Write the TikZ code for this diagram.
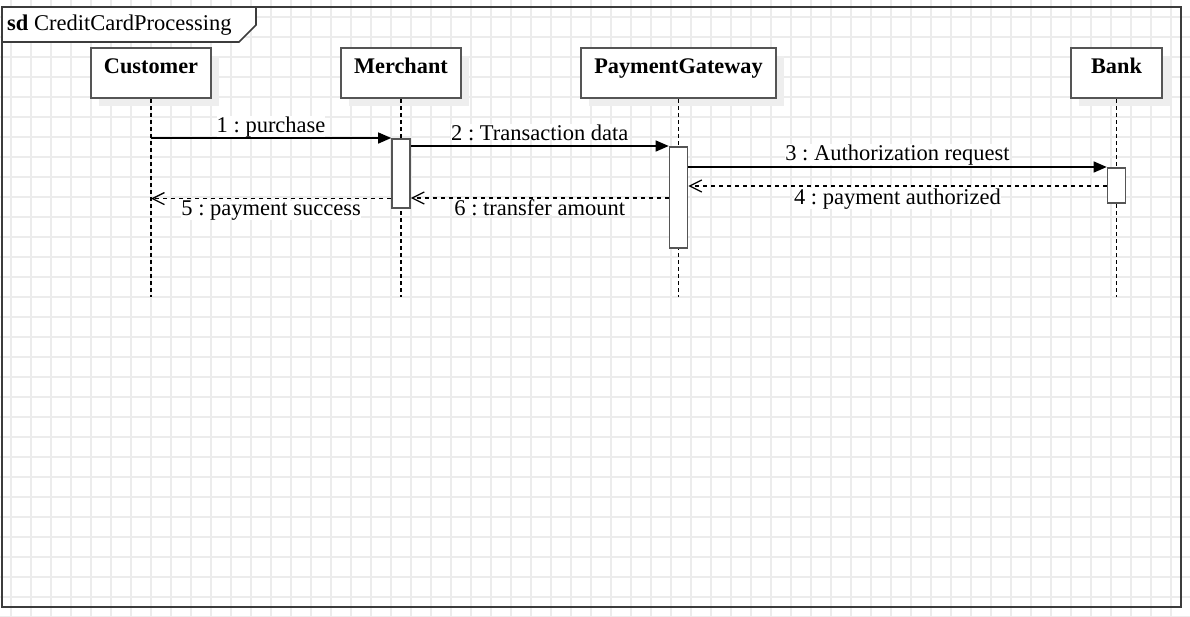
\documentclass[tikz,border=0pt]{standalone}
\usepackage{fontspec}
\setmainfont{Liberation Serif}
\usetikzlibrary{arrows.meta,shadows}
\definecolor{gridc}{RGB}{236,236,236}
\definecolor{shadc}{RGB}{238,238,238}
\definecolor{edgec}{RGB}{85,85,85}
\definecolor{framec}{RGB}{60,60,60}
\frenchspacing
\tikzset{
  lbox/.style={draw=edgec, line width=2pt, fill=white, minimum width=#1, minimum height=50pt, anchor=north, inner sep=0pt,
    drop shadow={shadow xshift=8pt, shadow yshift=-8pt, fill=shadc, opacity=1}},
  hdr/.style={anchor=base, inner sep=0pt, font=\fontsize{22.3}{26}\selectfont\bfseries},
  actbar/.style={draw=edgec, line width=1.6pt, fill=white, minimum width=18pt, anchor=north, inner sep=0pt},
  lifeline/.style={black, line width=1.2pt, dash pattern=on 3.5pt off 3.5pt},
  syncmsg/.style={black, line width=1.3pt, -{Triangle[length=13pt,width=11pt]}},
  replymsg/.style={black, line width=1.3pt, dash pattern=on 4pt off 4pt, -{Straight Barb[length=12pt,width=12pt]}},
  msglbl/.style={anchor=base, fill=white, inner sep=0pt, font=\fontsize{22.5}{26}\selectfont}
}
\begin{document}
\begin{tikzpicture}[x=1pt,y=-1pt]
\useasboundingbox (0,0) rectangle (1190,616);
\fill[white] (0,0) rectangle (1190,616);
% grid
\foreach \gx in {11,31,...,1191} \draw[gridc, line width=1.1pt] (\gx,0) -- (\gx,616);
\foreach \gy in {17,37,...,617} \draw[gridc, line width=1.1pt] (0,\gy) -- (1190,\gy);
% frame
\draw[framec, line width=2pt] (2,7) rectangle (1181,607);
\draw[framec, line width=1.6pt, fill=white] (2,7) -- (256,7) -- (256,25) -- (239,42) -- (2,42) -- cycle;
\node[anchor=base west, inner sep=0pt, font=\fontsize{22.5}{26}\selectfont] (title) at (7,30) {\textbf{sd} CreditCardProcessing};
% lifeline heads
\node[lbox=120pt] (cust) at (151,47) {};
\node[lbox=120pt] (merch) at (401,47) {};
\node[lbox=195pt] (pg) at (678.5,47) {};
\node[lbox=91pt] (bank) at (1116.5,47) {};
\node[hdr] (custt) at ([yshift=-26pt]cust.north) {Customer};
\node[hdr] (mercht) at ([yshift=-26pt]merch.north) {Merchant};
\node[hdr] (pgt) at ([yshift=-26pt]pg.north) {PaymentGateway};
\node[hdr] (bankt) at ([yshift=-26pt]bank.north) {Bank};
% lifelines
\coordinate (custend) at (151,297);
\coordinate (merchend) at (401,297);
\coordinate (pgend) at (678.5,297);
\coordinate (bankend) at (1116.5,297);
\draw[lifeline] (cust.south) -- (custend);
\draw[lifeline] (merch.south) -- (merchend);
\draw[lifeline] (pg.south) -- (pgend);
\draw[lifeline] (bank.south) -- (bankend);
% activation bars
\node[actbar, minimum height=69pt] (mact) at (401,138) {};
\node[actbar, minimum height=101pt] (pact) at (678.5,146) {};
\node[actbar, minimum height=35pt] (bact) at (1116.5,167) {};
% messages
\draw[syncmsg] (mact.north west -| cust.south) -- (mact.north west)
  node[msglbl, midway, yshift=6pt] (l1) {1 : purchase};
\draw[syncmsg] (pact.north west -| mact.east) -- (pact.north west)
  node[msglbl, midway, yshift=6pt] (l2) {2 : Transaction data};
\draw[syncmsg] (bact.north west -| pact.east) -- (bact.north west)
  node[msglbl, midway, yshift=7pt] (l3) {3 : Authorization request};
\coordinate (r4) at ([yshift=-19pt]bact.north west);
\draw[replymsg] (r4) -- (r4 -| pact.east)
  node[msglbl, midway, yshift=-18pt] (l4) {4 : payment authorized};
\coordinate (r5) at ([yshift=10pt]mact.south west);
\draw[replymsg] (r5) -- (r5 -| cust.south)
  node[msglbl, midway, yshift=-17pt] (l5) {5 : payment success};
\coordinate (r6) at ([yshift=-52pt]pact.north west);
\draw[replymsg] (r6) -- (r6 -| mact.east)
  node[msglbl, midway, yshift=-17pt] (l6) {6 : transfer amount};
\end{tikzpicture}
\end{document}
